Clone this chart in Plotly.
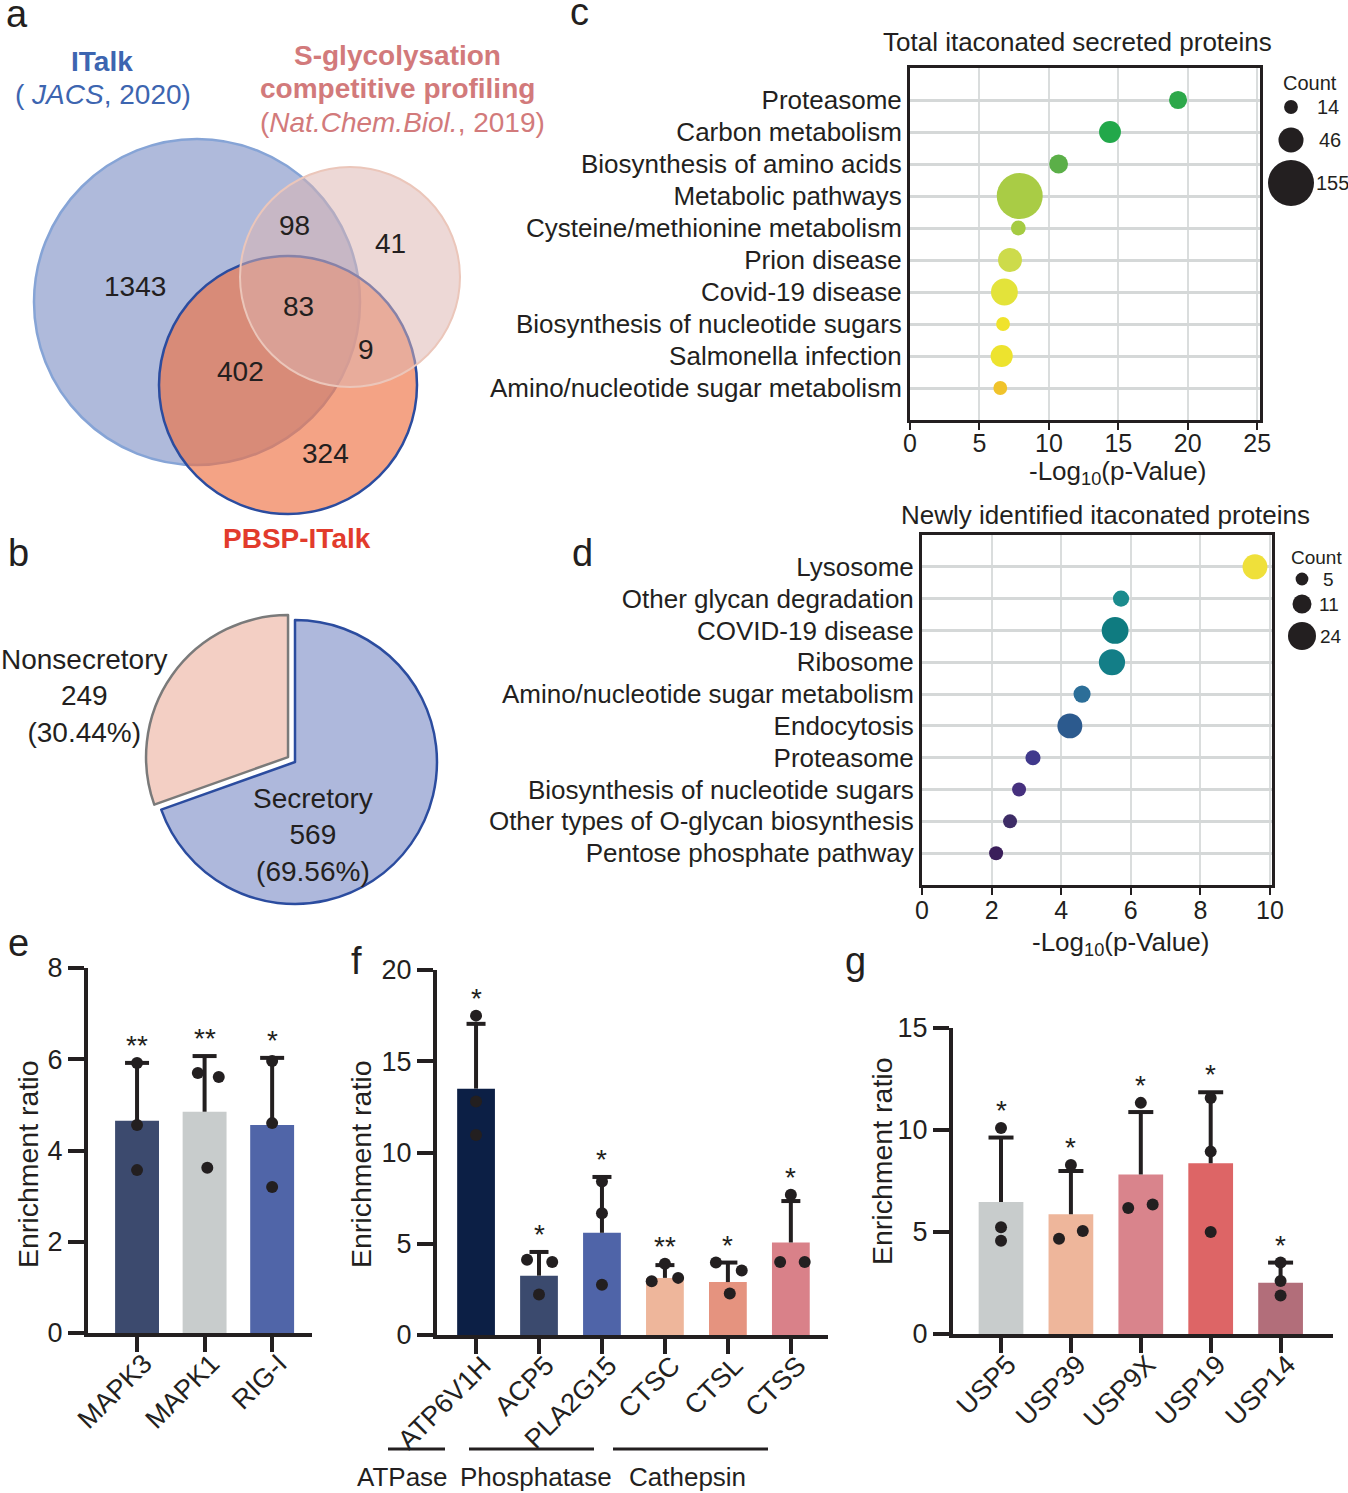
import plotly.graph_objects as go

W, H = 1348, 1493
FONT = "Liberation Sans, Arial, Helvetica, sans-serif"
INK = "#231F20"

# ---------------- data ----------------
venn_regions = ["ITalk only", "ITalk & S-glyco", "S-glyco only", "all three",
                "S-glyco & PBSP", "ITalk & PBSP", "PBSP only"]
venn_counts = [1343, 98, 41, 83, 9, 402, 324]

pie_labels = ["Nonsecretory", "Secretory"]
pie_values = [249, 569]

c_terms = ["Proteasome", "Carbon metabolism", "Biosynthesis of amino acids",
           "Metabolic pathways", "Cysteine/methionine metabolism", "Prion disease",
           "Covid-19 disease", "Biosynthesis of nucleotide sugars",
           "Salmonella infection", "Amino/nucleotide sugar metabolism"]
c_logp = [19.3, 14.4, 10.7, 7.9, 7.8, 7.2, 6.8, 6.7, 6.6, 6.5]
c_count = [24, 35, 26, 155, 16, 42, 53, 14, 36, 14]
c_colors = ["#2DA84A", "#22A84A", "#5BAF48", "#A9CC45", "#A5CB42", "#CDDB4B",
            "#E3E33A", "#F0E32B", "#EDE32E", "#F0C32B"]
c_legend_counts = [14, 46, 155]

d_terms = ["Lysosome", "Other glycan degradation", "COVID-19 disease", "Ribosome",
           "Amino/nucleotide sugar metabolism", "Endocytosis", "Proteasome",
           "Biosynthesis of nucleotide sugars", "Other types of O-glycan biosynthesis",
           "Pentose phosphate pathway"]
d_logp = [9.57, 5.72, 5.55, 5.46, 4.6, 4.25, 3.19, 2.79, 2.53, 2.13]
d_count = [19, 8, 22, 21, 9, 19, 7, 6, 6, 6]
d_colors = ["#EFE03A", "#1B8B8D", "#0F7B80", "#137E87", "#2C6E98", "#2C5A8E",
            "#40398C", "#46307E", "#3D2C66", "#3A1E5A"]
d_legend_counts = [5, 11, 24]

e_genes = ["MAPK3", "MAPK1", "RIG-I"]
e_mean = [4.65, 4.85, 4.56]
e_sd = [1.27, 1.22, 1.47]
e_points = [[5.92, 4.56, 3.57], [5.70, 5.61, 3.62], [5.96, 4.60, 3.20]]
e_sig = ["**", "**", "*"]
e_colors = ["#3C4A6E", "#C8CCCC", "#5065A8"]

f_genes = ["ATP6V1H", "ACP5", "PLA2G15", "CTSC", "CTSL", "CTSS"]
f_mean = [13.5, 3.25, 5.6, 3.13, 2.9, 5.07]
f_sd = [3.55, 1.3, 3.06, 0.7, 1.07, 2.27]
f_points = [[17.5, 12.8, 10.96], [4.12, 4.0, 2.22], [8.41, 6.67, 2.75],
            [3.91, 2.94, 3.13], [3.97, 3.54, 2.28], [7.69, 4.0, 4.0]]
f_sig = ["*", "*", "*", "**", "*", "*"]
f_colors = ["#0C1F45", "#3B4A6E", "#4F64A8", "#EEB69B", "#E5937F", "#D98189"]
f_groups = ["ATPase", "Phosphatase", "Cathepsin"]

g_genes = ["USP5", "USP39", "USP9X", "USP19", "USP14"]
g_mean = [6.47, 5.87, 7.82, 8.37, 2.51]
g_sd = [3.16, 2.12, 3.06, 3.48, 0.99]
g_points = [[10.1, 5.23, 4.57], [8.28, 4.67, 5.05], [11.33, 6.18, 6.35],
            [11.57, 8.94, 5.0], [3.5, 2.6, 1.89]]
g_sig = ["*", "*", "*", "*", "*"]
g_colors = ["#C8CCCC", "#EEB69B", "#D9848C", "#DD6566", "#B26E7A"]

# horizontal scatter of replicate dots (style, in category units)
e_jit = [[0, 0, 0], [-0.10, 0.21, 0.04], [0, 0, 0]]
f_jit = [[0, 0, 0], [-0.19, 0.21, 0], [0, 0, 0], [0, -0.21, 0.21],
         [-0.19, 0.22, 0.03], [0, -0.17, 0.22]]
g_jit = [[0, 0, 0], [0, -0.17, 0.17], [0, -0.18, 0.17], [0, 0, 0], [0, 0, 0]]


# ---------------- helpers ----------------
def px(x):
    return x / W


def py(y):
    return 1 - y / H


def xdom(l, r):
    return [l / W, r / W]


def ydom(top, bottom):
    return [1 - bottom / H, 1 - top / H]


fig = go.Figure()
annotations = []
shapes = []


def text(x, y, s, size=28, color=INK, xanchor="center", yanchor="middle", **kw):
    annotations.append(dict(x=px(x), y=py(y), xref="paper", yref="paper", text=s,
                            showarrow=False, xanchor=xanchor, yanchor=yanchor,
                            font=dict(family=FONT, size=size, color=color), **kw))


# ---------------- panel letters ----------------
for letter, (lx, ly) in zip("abcdefg", [(4, 14), (6, 553), (568, 12), (570, 553),
                                         (6, 943), (349, 961), (843, 961)]):
    text(lx, ly, letter, size=38, xanchor="left")

# ---------------- a: Venn ----------------
def circle(cx, cy, r, fill, line_color, lw):
    shapes.append(dict(type="circle", xref="paper", yref="paper",
                       x0=px(cx - r), x1=px(cx + r), y0=py(cy + r), y1=py(cy - r),
                       fillcolor=fill, line=dict(color=line_color, width=lw), layer="below"))


circle(197, 302, 163, "#AFBADB", "#86A4D6", 2.5)
circle(288, 385, 129, "rgba(238,114,67,0.65)", "#2B4C9F", 2.5)
circle(350, 277, 110, "rgba(220,180,176,0.52)", "#EBC6BA", 2)

venn_pos = [(135, 286), (294, 225), (390, 243), (298, 306), (366, 349), (240, 372), (325, 453)]
for (vx, vy), cnt in zip(venn_pos, venn_counts):
    text(vx, vy, str(cnt), size=28)

BLUE_T = "#3D65B0"
PINK_T = "#D27A7B"
text(102, 62, "<b>ITalk</b>", color=BLUE_T)
text(103, 95, "( <i>JACS</i>, 2020)", color=BLUE_T)
text(397, 55, "<b>S-glycolysation</b>", color=PINK_T)
text(397, 88, "<b>competitive profiling</b>", color=PINK_T)
text(402, 122, "(<i>Nat.Chem.Biol.</i>, 2019)", color=PINK_T)
text(297, 538, "<b>PBSP-ITalk</b>", color="#E23B2C")

# ---------------- b: pie ----------------
tot = sum(pie_values)
fig.add_trace(go.Pie(labels=pie_labels, values=pie_values, sort=False,
                     direction="clockwise", rotation=-360 * pie_values[0] / tot,
                     pull=[0.06, 0], textinfo="none", hoverinfo="skip",
                     marker=dict(colors=["#F3CFC4", "#AEB8DC"],
                                 line=dict(color=["#7A7A7A", "#2B4C9F"], width=2.5)),
                     domain=dict(x=xdom(144.5, 445.5), y=ydom(611.5, 912.5)),
                     showlegend=False))
pie_text_pos = [(84, 696), (313, 835)]
for (tx, ty), lab, v in zip(pie_text_pos, pie_labels, pie_values):
    text(tx, ty, f"{lab}<br>{v}<br>({v / tot * 100:.2f}%)", size=28)

# ---------------- c & d: bubble plots ----------------
SR_C = 155 / (2 * 23 ** 2)
SR_D = 24 / (2 * 14 ** 2)


def bubble_panel(k, terms, vals, counts, colors, sr, xdp, ydp, xmax, dtick, standoff):
    xa, ya = f"x{k}", f"y{k}"
    n = len(terms)
    fig.add_trace(go.Scatter(x=vals, y=list(range(n)), mode="markers",
                             marker=dict(size=counts, sizemode="area", sizeref=sr,
                                         color=colors, line=dict(width=0), opacity=1),
                             xaxis=xa, yaxis=ya, hoverinfo="skip", showlegend=False,
                             cliponaxis=False))
    fig.layout[f"xaxis{k}"] = dict(domain=xdom(*xdp), range=[0, xmax], anchor=ya,
                                   automargin=False, ticklabelstandoff=standoff,
                                   showline=True, mirror=True, linecolor=INK, linewidth=3,
                                   ticks="outside", ticklen=7, tickwidth=2, tickcolor=INK,
                                   dtick=dtick, tick0=0, showgrid=True, gridcolor="#DADDDD",
                                   gridwidth=1.5, zeroline=False,
                                   tickfont=dict(family=FONT, size=25, color=INK))
    fig.layout[f"yaxis{k}"] = dict(domain=ydom(*ydp), range=[10, -1], anchor=xa,
                                   automargin=False,
                                   showline=True, mirror=True, linecolor=INK, linewidth=3,
                                   ticks="", tickvals=list(range(n)), ticktext=terms,
                                   showgrid=True, gridcolor="#D5D8D8", gridwidth=2.5,
                                   zeroline=False,
                                   tickfont=dict(family=FONT, size=26, color=INK))


bubble_panel(1, c_terms, c_logp, c_count, c_colors, SR_C, (910, 1260), (68, 420), 25.2, 5, -8)
bubble_panel(2, d_terms, d_logp, d_count, d_colors, SR_D, (922, 1272), (535, 885), 10.06, 2, -6)

text(1077, 42, "Total itaconated secreted proteins", size=26)
text(1117, 472, "-Log<sub>10</sub>(p-Value)", size=26)
text(1105, 515, "Newly identified itaconated proteins", size=26)
text(1120, 943, "-Log<sub>10</sub>(p-Value)", size=26)

# size legends on a full-page canvas axis
fig.layout["xaxis6"] = dict(domain=[0, 1], range=[0, W], visible=False, anchor="y6",
                            fixedrange=True, automargin=False)
fig.layout["yaxis6"] = dict(domain=[0, 1], range=[H, 0], visible=False, anchor="x6",
                            fixedrange=True, automargin=False)
c_leg_y = [107, 140, 183]
d_leg_y = [579, 604, 636]
fig.add_trace(go.Scatter(x=[1291] * 3, y=c_leg_y, mode="markers",
                         marker=dict(size=c_legend_counts, sizemode="area", sizeref=SR_C,
                                     color=INK, opacity=1, line=dict(width=0)),
                         xaxis="x6", yaxis="y6", hoverinfo="skip", showlegend=False, cliponaxis=False))
fig.add_trace(go.Scatter(x=[1302] * 3, y=d_leg_y, mode="markers",
                         marker=dict(size=d_legend_counts, sizemode="area", sizeref=SR_D,
                                     color=INK, opacity=1, line=dict(width=0)),
                         xaxis="x6", yaxis="y6", hoverinfo="skip", showlegend=False, cliponaxis=False))
text(1310, 83, "Count", size=20)
for yy, cnt, xx in zip(c_leg_y, c_legend_counts, [1328, 1330, 1332]):
    text(xx, yy, str(cnt), size=20)
text(1316, 558, "Count", size=19)
for yy, cnt, xx in zip(d_leg_y, d_legend_counts, [1328, 1329, 1331]):
    text(xx, yy, str(cnt), size=19)


# ---------------- e, f, g: bar charts ----------------
def bar_panel(k, genes, mean, sd, points, jit, sig, colors, xdp, ydp, xr, ymax, dtick,
              bw, cap_px):
    xa, ya = f"x{k}", f"y{k}"
    n = len(genes)
    xs = list(range(n))
    fig.add_trace(go.Bar(x=xs, y=mean, width=bw, marker=dict(color=colors, line=dict(width=0)),
                         xaxis=xa, yaxis=ya, hoverinfo="skip", showlegend=False))
    unit = (xdp[1] - xdp[0]) / (xr[1] - xr[0])
    c = cap_px / unit
    ex, ey = [], []
    for i in xs:
        top = mean[i] + sd[i]
        ex += [i, i, None, i - c, i + c, None]
        ey += [mean[i], top, None, top, top, None]
    fig.add_trace(go.Scatter(x=ex, y=ey, mode="lines", line=dict(color=INK, width=4),
                             xaxis=xa, yaxis=ya, hoverinfo="skip", showlegend=False,
                             cliponaxis=False))
    dx, dy = [], []
    for i in xs:
        for v, j in zip(points[i], jit[i]):
            dx.append(i + j)
            dy.append(v)
    fig.add_trace(go.Scatter(x=dx, y=dy, mode="markers",
                             marker=dict(color=INK, size=12, opacity=1),
                             xaxis=xa, yaxis=ya, hoverinfo="skip", showlegend=False,
                             cliponaxis=False))
    for i in xs:
        top = max(mean[i] + sd[i], max(points[i]))
        annotations.append(dict(x=i, y=top, xref=xa, yref=ya, text=sig[i], showarrow=False,
                                yanchor="bottom", xanchor="center", yshift=0,
                                font=dict(family=FONT, size=28, color=INK)))
    fig.layout[f"xaxis{k}"] = dict(domain=xdom(*xdp), range=list(xr), anchor=ya,
                                   automargin=False, ticklabelstandoff=-15, ticklabelshift=7,
                                   showline=True, linecolor=INK, linewidth=4,
                                   ticks="outside", ticklen=15, tickwidth=4, tickcolor=INK,
                                   tickvals=xs, ticktext=genes, tickangle=-45,
                                   showgrid=False, zeroline=False,
                                   tickfont=dict(family=FONT, size=27, color=INK))
    fig.layout[f"yaxis{k}"] = dict(domain=ydom(*ydp), range=[0, ymax], anchor=xa,
                                   automargin=False,
                                   showline=True, linecolor=INK, linewidth=4,
                                   ticks="outside", ticklen=16, tickwidth=4, tickcolor=INK,
                                   dtick=dtick, tick0=0, showgrid=False, zeroline=False,
                                   tickfont=dict(family=FONT, size=27, color=INK))


bar_panel(3, e_genes, e_mean, e_sd, e_points, e_jit, e_sig, e_colors,
          (88, 312), (968, 1333), (-0.726, 2.59), 8, 2, 0.65, 12)
bar_panel(4, f_genes, f_mean, f_sd, f_points, f_jit, f_sig, f_colors,
          (437, 828), (970, 1335), (-0.62, 5.59), 20, 5, 0.6, 9.5)
bar_panel(5, g_genes, g_mean, g_sd, g_points, g_jit, g_sig, g_colors,
          (953, 1333), (1028, 1334), (-0.687, 4.75), 15, 5, 0.64, 12.5)

for tx, ty in [(28, 1164), (361, 1164), (882, 1161)]:
    text(tx, ty, "Enrichment ratio", size=28.5, textangle=-90)

# f groups
group_spans = [(388, 445), (469, 594), (613, 768)]
group_label_x = [402, 536, 687]
for (x0, x1), gx, lab in zip(group_spans, group_label_x, f_groups):
    shapes.append(dict(type="line", xref="paper", yref="paper", x0=px(x0), x1=px(x1),
                       y0=py(1449), y1=py(1449), line=dict(color=INK, width=3)))
    text(gx, 1477, lab, size=26)

fig.update_layout(width=W, height=H, margin=dict(l=0, r=0, t=0, b=0, autoexpand=False),
                  paper_bgcolor="white", plot_bgcolor="rgba(0,0,0,0)",
                  showlegend=False, annotations=annotations, shapes=shapes,
                  font=dict(family=FONT, color=INK))

fig.write_html("out.html", config={"displayModeBar": False},
               post_script="document.body.style.margin='0px';document.body.style.overflow='hidden';")
